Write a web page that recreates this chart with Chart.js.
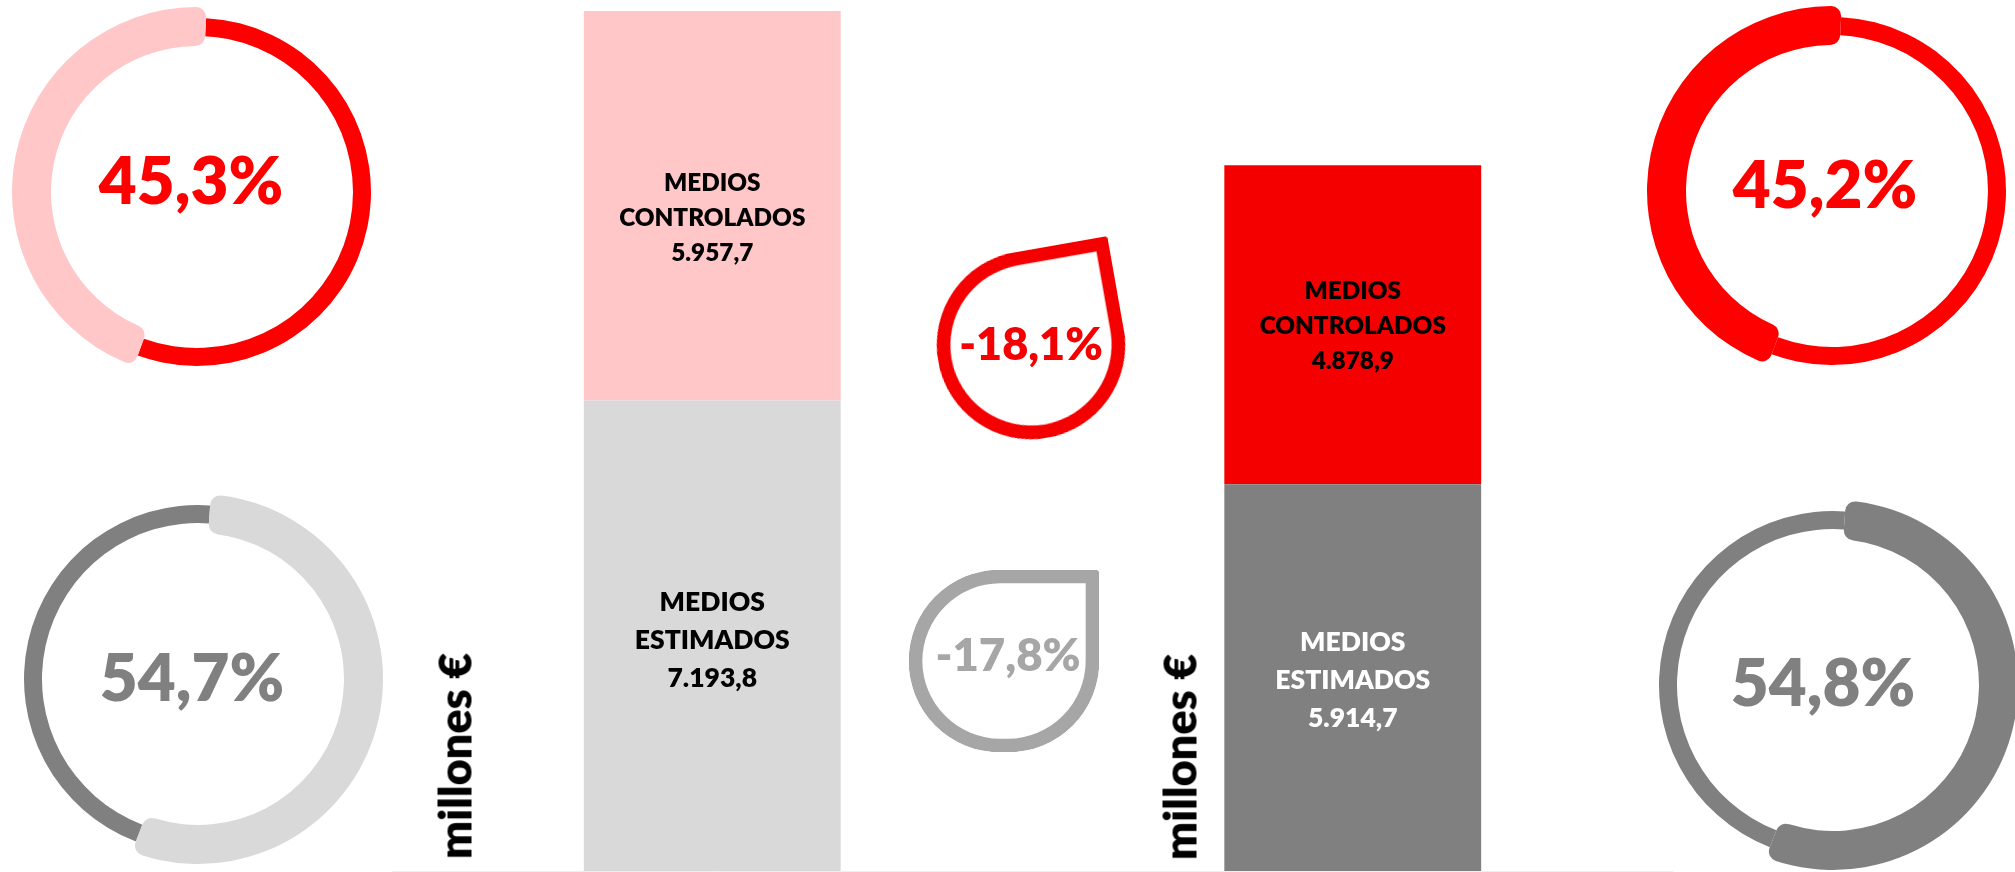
<!DOCTYPE html>
<html>
<head>
<meta charset="utf-8">
<script src="https://cdn.jsdelivr.net/npm/chart.js@4/dist/chart.umd.min.js"></script>
<style>
html,body{margin:0;padding:0;background:#fff;overflow:hidden;}
#stage{position:relative;width:2015px;height:872px;overflow:hidden;font-family:Lato,"Open Sans",sans-serif;}
canvas{position:absolute;}
.lbl{position:absolute;transform:translate(-50%,-50%);white-space:nowrap;font-weight:800;line-height:1;}
.unit{position:absolute;transform:translate(-50%,-50%) rotate(-90deg);white-space:nowrap;font-weight:800;line-height:1;color:#000;}
</style>
</head>
<body>
<div id="stage"></div>
<script>
// ---------------- data ----------------
const periods = ['Periodo anterior', 'Periodo actual'];
const seriesNames = ['MEDIOS ESTIMADOS', 'MEDIOS CONTROLADOS'];
const estimados = [7193.8, 5914.7];        // millones €
const controlados = [5957.7, 4878.9];      // millones €
const shareEstimados = [54.7, 54.8];       // %
const shareControlados = [45.3, 45.2];     // %
const changes = [-18.1, -17.8];            // variación: controlados, estimados
const unitLabel = 'millones €';

// ---------------- helpers ----------------
const stage = document.getElementById('stage');
const FW = 800;
function fmt(v, d) {
  const s = Math.abs(v).toFixed(d);
  let [i, f] = s.split('.');
  i = i.replace(/\B(?=(\d{3})+(?!\d))/g, '.');
  return (v < 0 ? '-' : '') + i + (f ? ',' + f : '');
}
function mkCanvas(left, top, w, h, extraStyle) {
  const c = document.createElement('canvas');
  c.width = w; c.height = h;
  c.style.left = left + 'px'; c.style.top = top + 'px';
  c.style.width = w + 'px'; c.style.height = h + 'px';
  if (extraStyle) Object.assign(c.style, extraStyle);
  stage.appendChild(c);
  return c;
}
function mkLabel(text, x, y, size, color, cls) {
  const d = document.createElement('div');
  d.className = cls || 'lbl';
  d.textContent = text;
  d.style.left = x + 'px'; d.style.top = y + 'px';
  d.style.fontSize = size + 'px'; d.style.color = color;
  stage.appendChild(d);
  return d;
}
const baseOpts = {
  responsive: false, animation: false, events: [],
  plugins: { legend: { display: false }, tooltip: { enabled: false } }
};
const clear = 'rgba(0,0,0,0)';

// ---------------- stacked bars ----------------
const barLabelPlugin = {
  id: 'barLabels',
  afterDatasetsDraw(chart) {
    const ctx = chart.ctx;
    chart.data.datasets.forEach((ds, di) => {
      const meta = chart.getDatasetMeta(di);
      meta.data.forEach((bar, i) => {
        const p = bar.getProps(['x', 'y', 'base'], true);
        const cy = (p.y + p.base) / 2 + ds.labelShift[i];
        const size = ds.labelSize, lh = ds.lineHeight;
        const lines = ds.label.split(' ').concat([fmt(ds.data[i], 1)]);
        ctx.save();
        ctx.font = FW + ' ' + size + 'px Lato';
        ctx.fillStyle = ds.labelColor[i];
        ctx.textAlign = 'center';
        ctx.textBaseline = 'alphabetic';
        lines.forEach((t, k) => {
          ctx.fillText(t, p.x, cy + (k - (lines.length - 1) / 2) * lh + 0.358 * size);
        });
        ctx.restore();
      });
    });
  }
};
new Chart(mkCanvas(392, 0, 1281, 872), {
  type: 'bar',
  data: {
    labels: periods,
    datasets: [
      { label: seriesNames[0], data: estimados, backgroundColor: ['#d9d9d9', '#808080'],
        labelColor: ['#000000', '#ffffff'], labelSize: 26.5, lineHeight: 38, labelShift: [4, 2] },
      { label: seriesNames[1], data: controlados, backgroundColor: ['#ffc7c7', '#f40000'],
        labelColor: ['#000000', '#000000'], labelSize: 24.3, lineHeight: 35, labelShift: [11, 1] }
    ]
  },
  options: Object.assign({}, baseOpts, {
    layout: { padding: { bottom: 1 } },
    datasets: { bar: { barPercentage: 0.401, categoryPercentage: 1, borderWidth: 0 } },
    scales: {
      x: { stacked: true, grid: { display: false, drawTicks: false },
           border: { display: true, color: '#eeeeee', width: 1 }, ticks: { display: false } },
      y: { stacked: true, display: false, min: 0, max: 13320 }
    }
  }),
  plugins: [barLabelPlugin]
});

// ---------------- donuts ----------------
function donut(cx, cy, values, thickIdx, thickColor, thinColor, rot) {
  const S = 380;
  const thin = mkCanvas(cx - S / 2, cy - S / 2, S, S);
  const thick = mkCanvas(cx - S / 2, cy - S / 2, S, S);
  new Chart(thin, {
    type: 'doughnut',
    data: { labels: seriesNames, datasets: [{
      data: values,
      backgroundColor: values.map((v, i) => i === thickIdx ? clear : thinColor),
      borderWidth: 0, hoverBorderWidth: 0 }] },
    options: Object.assign({}, baseOpts, { layout: { padding: 5 }, rotation: rot, radius: 174, cutout: (156 / 174 * 100) + '%' })
  });
  new Chart(thick, {
    type: 'doughnut',
    data: { labels: seriesNames, datasets: [{
      data: values,
      backgroundColor: values.map((v, i) => i === thickIdx ? thickColor : clear),
      borderWidth: 0, hoverBorderWidth: 0, borderRadius: 10 }] },
    options: Object.assign({}, baseOpts, { layout: { padding: 5 }, rotation: rot, cutout: (146 / 185 * 100) + '%' })
  });
}
donut(197, 192, [shareEstimados[0], shareControlados[0]], 1, '#ffc7c7', '#ff0000', 3);
donut(198, 679, [shareEstimados[0], shareControlados[0]], 0, '#d9d9d9', '#808080', 4);
donut(1832, 191, [shareEstimados[1], shareControlados[1]], 1, '#ff0000', '#ff0000', 3);
donut(1833, 685, [shareEstimados[1], shareControlados[1]], 0, '#808080', '#808080', 4);

// ---------------- teardrops ----------------
function teardrop(cx, cy, w, h, rot, value, color) {
  const pad = 30, W = w + 2 * pad, H = h + 2 * pad;
  const c = mkCanvas(cx - W / 2, cy - H / 2, W, H, { transform: 'rotate(' + rot + 'deg)' });
  new Chart(c, {
    type: 'bar',
    data: { labels: [fmt(value, 1) + '%'], datasets: [{
      data: [Math.abs(value)], backgroundColor: clear, borderColor: color, borderWidth: 13,
      borderSkipped: false, barPercentage: 1, categoryPercentage: 1,
      borderRadius: { topLeft: w / 2, topRight: 4, bottomLeft: w / 2, bottomRight: w / 2 } }] },
    options: Object.assign({}, baseOpts, {
      layout: { padding: pad },
      scales: { x: { display: false }, y: { display: false, min: 0, max: Math.abs(value) } }
    })
  });
}
teardrop(1031, 345, 188, 188, -10, changes[0], '#f40000');
teardrop(1004, 661, 190, 182, 0, changes[1], '#a6a6a6');

// ---------------- texts ----------------
mkLabel(fmt(shareControlados[0], 1) + '%', 191, 179, 65.5, '#ff0000');
mkLabel(fmt(shareEstimados[0], 1) + '%', 192, 676, 65.5, '#808080');
mkLabel(fmt(shareControlados[1], 1) + '%', 1825, 183, 65.5, '#ff0000');
mkLabel(fmt(shareEstimados[1], 1) + '%', 1823, 681, 65.5, '#808080');
mkLabel(fmt(changes[0], 1) + '%', 1031, 343, 45, '#f40000');
mkLabel(fmt(changes[1], 1) + '%', 1008, 654, 45.5, '#a6a6a6');
mkLabel(unitLabel, 455, 756, 45, '#000', 'unit');
mkLabel(unitLabel, 1180, 757, 45, '#000', 'unit');
</script>
</body>
</html>
